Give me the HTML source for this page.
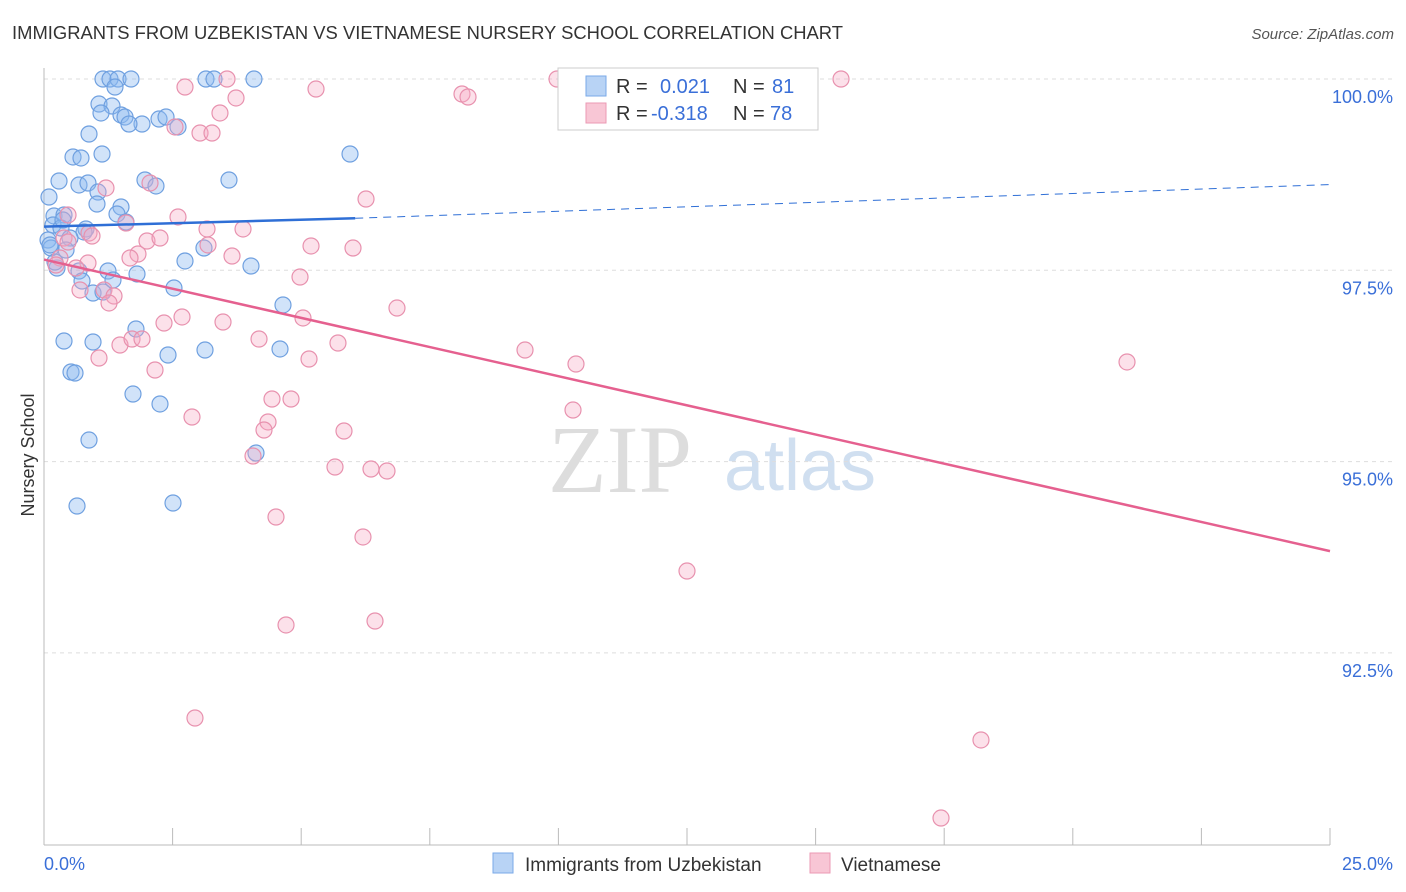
<!DOCTYPE html>
<html><head><meta charset="utf-8"><style>
body{margin:0;background:#fff;font-family:"Liberation Sans",sans-serif}
svg{display:block}
</style></head><body>
<svg id="chart" width="1406" height="892">
<text x="12" y="39" font-size="18.5" fill="#333" textLength="831" lengthAdjust="spacingAndGlyphs">IMMIGRANTS FROM UZBEKISTAN VS VIETNAMESE NURSERY SCHOOL CORRELATION CHART</text>
<text x="1394" y="39" font-size="15" fill="#555" text-anchor="end" font-style="italic">Source: ZipAtlas.com</text>
<text x="620" y="492" font-size="96" fill="#ddd" font-family="Liberation Serif,serif" text-anchor="middle">ZIP</text>
<text x="800" y="490" font-size="72" fill="#d0dff0" text-anchor="middle">atlas</text>
<text transform="translate(34,455) rotate(-90)" font-size="18" fill="#333" text-anchor="middle">Nursery School</text>
<g id="grid"></g><g id="pts"></g><g id="lines"></g>
<g>
<rect x="558" y="68" width="260" height="62" fill="#fff" stroke="#ccc"/>
<rect x="586" y="76" width="20" height="20" fill="#b8d3f5" stroke="#7aaae8"/>
<rect x="586" y="103" width="20" height="20" fill="#f8c6d5" stroke="#eb9ab4"/>
<text x="616" y="93" font-size="20" fill="#333">R =</text>
<text x="660" y="93" font-size="20" fill="#3a6fd8">0.021</text>
<text x="733" y="93" font-size="20" fill="#333">N =</text>
<text x="772" y="93" font-size="20" fill="#3a6fd8">81</text>
<text x="616" y="120" font-size="20" fill="#333">R =</text>
<text x="651" y="120" font-size="20" fill="#3a6fd8">-0.318</text>
<text x="733" y="120" font-size="20" fill="#333">N =</text>
<text x="770" y="120" font-size="20" fill="#3a6fd8">78</text>
</g>
<g>
<rect x="493" y="853" width="20" height="20" fill="#b8d3f5" stroke="#7aaae8"/>
<text x="525" y="871" font-size="19" fill="#333">Immigrants from Uzbekistan</text>
<rect x="810" y="853" width="20" height="20" fill="#f8c6d5" stroke="#eb9ab4"/>
<text x="841" y="871" font-size="19" fill="#333">Vietnamese</text>
</g>
</svg>
<script>
const xTicksLabels=["0.0%","25.0%"];
const yTicks=[100,97.5,95,92.5];
const yTickLabels=["100.0%","97.5%","95.0%","92.5%"];
const bluePx=[[103,79],[110,79],[118,79],[131,79],[206,79],[214,79],[254,79],[115,87],[99,104],[112,106],[101,113],[121,115],[125,117],[142,124],[129,124],[159,119],[166,117],[178,127],[89,134],[73,157],[81,158],[102,154],[350,154],[59,181],[79,185],[88,183],[145,180],[156,186],[229,180],[49,197],[98,192],[97,204],[121,207],[54,216],[64,215],[117,214],[126,222],[53,225],[61,228],[86,229],[84,232],[48,240],[70,238],[51,248],[66,250],[204,248],[185,261],[251,266],[57,268],[79,271],[108,271],[137,274],[82,281],[113,280],[174,288],[93,293],[103,292],[283,305],[136,329],[64,341],[93,342],[168,355],[205,350],[280,349],[71,372],[75,373],[133,394],[160,404],[89,440],[256,453],[77,506],[173,503],[50,245],[55,262],[63,220]];
const pinkPx=[[185,87],[227,79],[557,79],[841,79],[316,89],[462,94],[468,97],[236,98],[220,113],[175,127],[200,133],[212,133],[106,188],[150,183],[366,199],[68,215],[178,217],[126,223],[207,229],[243,229],[89,233],[92,236],[64,238],[147,241],[160,238],[208,245],[68,242],[311,246],[353,248],[138,254],[232,256],[130,258],[60,258],[56,265],[88,263],[76,268],[300,277],[80,290],[104,290],[114,296],[109,303],[397,308],[182,317],[223,322],[164,323],[303,318],[120,345],[132,339],[142,339],[259,339],[338,343],[525,350],[99,358],[309,359],[155,370],[576,364],[1127,362],[272,399],[291,399],[192,417],[573,410],[268,422],[264,430],[344,431],[253,456],[335,467],[371,469],[387,471],[276,517],[363,537],[687,571],[286,625],[375,621],[195,718],[981,740],[941,818]];
const blueX=bluePx.map(p=>+((p[0]-44)*25/1286).toFixed(3));
const blueY=bluePx.map(p=>+(100-(p[1]-79)*2.5/191.3).toFixed(3));
const pinkX=pinkPx.map(p=>+((p[0]-44)*25/1286).toFixed(3));
const pinkY=pinkPx.map(p=>+(100-(p[1]-79)*2.5/191.3).toFixed(3));
const blueTrend=[[0,98.07],[6.05,98.18],[25,98.62]];
const pinkTrend=[[0,97.64],[25,93.83]];
const sx=v=>44+v/25*1286, sy=v=>79+(100-v)/2.5*191.3;
const NS="http://www.w3.org/2000/svg";
function mk(t,a,p){const e=document.createElementNS(NS,t);for(const k in a)e.setAttribute(k,a[k]);p.appendChild(e);return e;}
const grid=document.getElementById('grid'),pts=document.getElementById('pts'),lines=document.getElementById('lines');
yTicks.forEach((v,i)=>{
 const l=mk('line',{x1:44,x2:1394,y1:sy(v),y2:sy(v),stroke:'#ddd','stroke-dasharray':'4,4'},grid);
 
 
 const t=mk('text',{x:1393,y:sy(v)+24,'font-size':18,fill:'#3a6fd8','text-anchor':'end'},grid);t.textContent=yTickLabels[i];
 
 
});
mk('line',{x1:44,x2:44,y1:68,y2:845,stroke:'#bbb'},grid);
mk('line',{x1:44,x2:1330,y1:845,y2:845,stroke:'#bbb'},grid);
for(let i=0;i<=10;i++){mk('line',{x1:sx(i*2.5),x2:sx(i*2.5),y1:828,y2:845,stroke:'#bbb'},grid);}
const xl0=mk('text',{x:44,y:870,'font-size':18,fill:'#3a6fd8'},grid);xl0.textContent=xTicksLabels[0];


const xl1=mk('text',{x:1393,y:870,'font-size':18,fill:'#3a6fd8','text-anchor':'end'},grid);xl1.textContent=xTicksLabels[1];


blueX.forEach((x,i)=>{const c=mk('circle',{cx:sx(x),cy:sy(blueY[i]),r:8,fill:'rgba(140,185,240,0.4)',stroke:'#6fa0e0','stroke-width':1.2},pts);
 
 });
pinkX.forEach((x,i)=>{const c=mk('circle',{cx:sx(x),cy:sy(pinkY[i]),r:8,fill:'rgba(245,170,195,0.35)',stroke:'#e891ae','stroke-width':1.2},pts);
 
 });
const b1=mk('line',{x1:sx(blueTrend[0][0]),y1:sy(blueTrend[0][1]),x2:sx(blueTrend[1][0]),y2:sy(blueTrend[1][1]),stroke:'#2f6fd6','stroke-width':2.5},lines);


const b2=mk('line',{x1:sx(blueTrend[1][0]),y1:sy(blueTrend[1][1]),x2:sx(blueTrend[2][0]),y2:sy(blueTrend[2][1]),stroke:'#2f6fd6','stroke-width':1,'stroke-dasharray':'8,6'},lines);


const p1=mk('line',{x1:sx(pinkTrend[0][0]),y1:sy(pinkTrend[0][1]),x2:sx(pinkTrend[1][0]),y2:sy(pinkTrend[1][1]),stroke:'#e5608f','stroke-width':2.5},lines);


</script>
</body></html>
